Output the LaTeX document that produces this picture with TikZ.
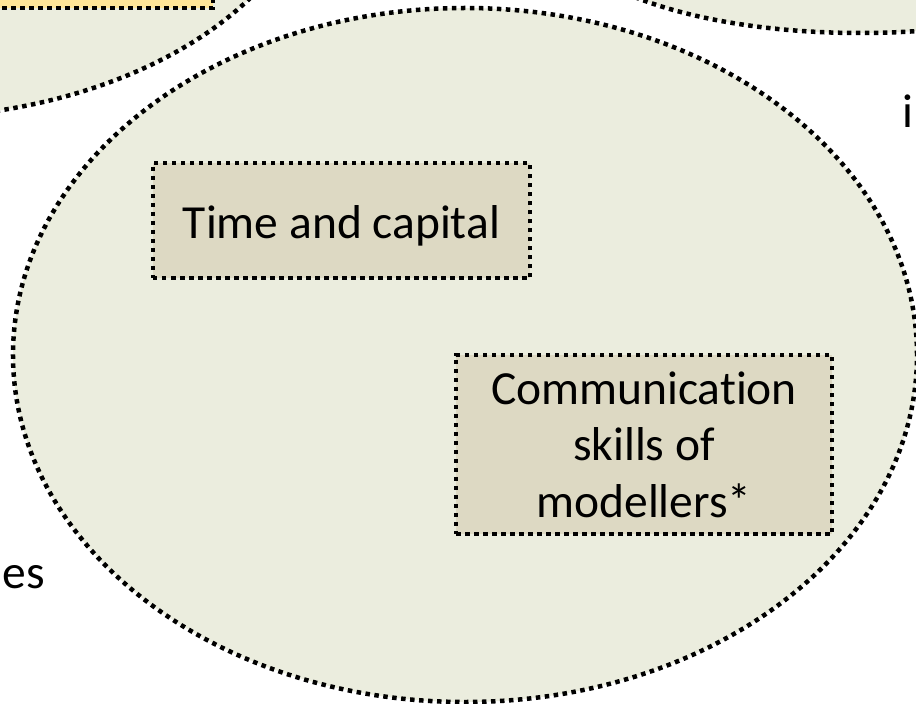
\documentclass[tikz,border=0pt]{standalone}
\usepackage{fontspec}
\setmainfont[Ligatures=NoCommon]{Carlito}
\definecolor{ellfill}{RGB}{235,237,222}
\definecolor{boxfill}{RGB}{221,217,195}
\definecolor{yelfill}{RGB}{255,230,153}
\tikzset{
  sqdots/.style={draw=black, line width=4.5bp, dash pattern=on 4.5bp off 4.5bp, line cap=butt},
  bubble/.style={sqdots, fill=ellfill},
  factor/.style={sqdots, fill=boxfill, rectangle, inner sep=0pt, align=center,
     font=\fontsize{47.5bp}{56.5bp}\selectfont},
  plain/.style={inner sep=0pt, font=\fontsize{47.5bp}{56.5bp}\selectfont}
}
\begin{document}
\begin{tikzpicture}[x=1bp, y=-1bp]
\useasboundingbox (0,0) rectangle (916,704);
\clip (0,0) rectangle (916,704);
% upper-left group
\path[bubble] (-100,-150) ellipse [x radius=420bp, y radius=268bp];
\path[sqdots, fill=yelfill] (-20,-60) rectangle (213,8);
% upper-right group
\path[bubble] (860,-73) ellipse [x radius=300bp, y radius=106bp];
% main group
\path[bubble] (465,355) ellipse [x radius=452bp, y radius=347bp];
\node[factor, minimum width=377bp, minimum height=115bp, text height=40bp, text depth=5bp] (tc) at (341.5,220.5) {Time and capital};
\node[factor, minimum width=376bp, minimum height=179bp] (cs) at (644,444.5) {Communication\\skills of\\modellers*};
\node[plain, anchor=base east] (es) at (45,588) {es};
\node[plain, anchor=base west] (iw) at (902,128) {i};
\end{tikzpicture}
\end{document}
